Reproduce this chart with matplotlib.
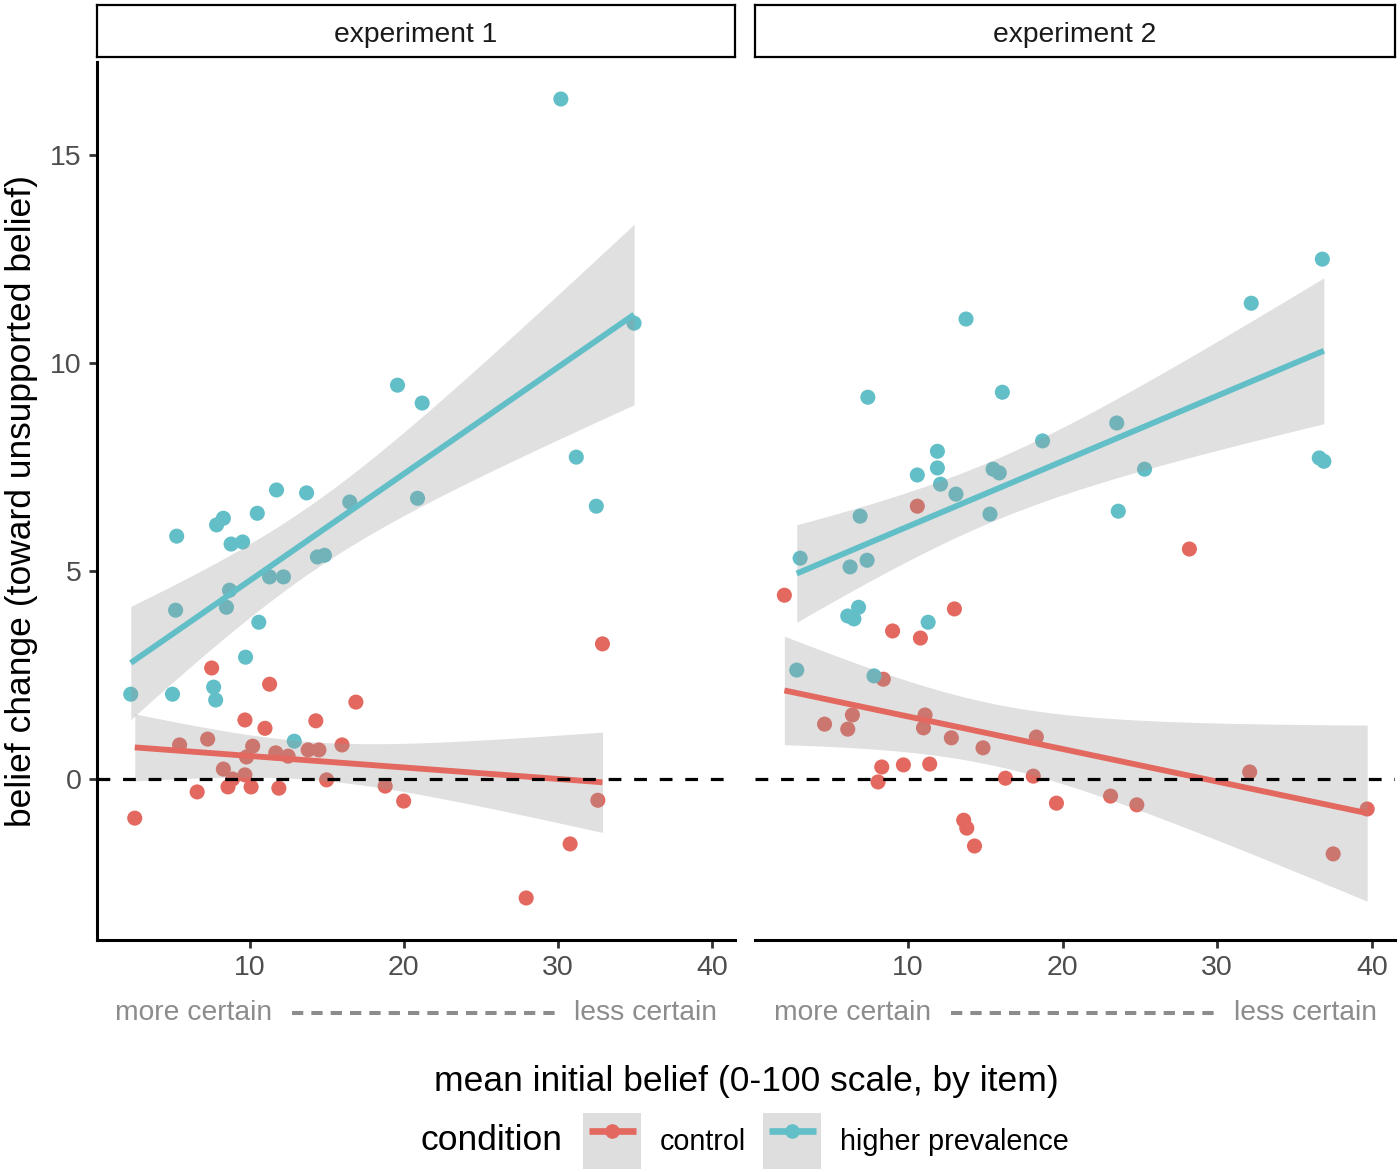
import numpy as np
import matplotlib
matplotlib.use('Agg')
import matplotlib.pyplot as plt
import matplotlib.transforms as mtransforms
from matplotlib.lines import Line2D
from matplotlib.patches import Patch, Rectangle
from matplotlib.legend_handler import HandlerTuple, HandlerPatch

plt.rcParams['font.family'] = ['Liberation Sans', 'DejaVu Sans']

# ---- data (mean initial belief, belief change) ----
e1_ctrl_x = [2.55, 5.46, 6.6, 7.28, 7.54, 8.3, 8.6, 8.9, 9.7, 9.7, 9.8, 10.2, 10.1, 11.0, 11.3,
             11.7, 11.9, 12.5, 13.8, 14.3, 14.5, 15.0, 16.0, 16.9, 18.8, 20.0, 27.95, 30.8, 32.6, 32.9]
e1_ctrl_y = [-0.94, 0.82, -0.31, 0.96, 2.67, 0.24, -0.19, 0.0, 1.42, 0.10, 0.53, 0.79, -0.19, 1.22, 2.28,
             0.63, -0.22, 0.55, 0.70, 1.40, 0.70, -0.02, 0.82, 1.85, -0.17, -0.53, -2.86, -1.56, -0.51, 3.25]

e1_high_x = [2.29, 5.27, 5.2, 5.0, 7.86, 8.3, 8.8, 9.55, 8.7, 8.5, 7.67, 7.8, 9.74, 10.5, 10.6,
             11.3, 12.2, 11.75, 13.7, 14.4, 14.86, 12.9, 16.5, 19.6, 21.2, 20.9, 30.2, 31.2, 32.5, 34.95]
e1_high_y = [2.04, 5.84, 4.06, 2.04, 6.11, 6.27, 5.65, 5.7, 4.54, 4.13, 2.21, 1.9, 2.93, 6.39, 3.77,
             4.86, 4.86, 6.95, 6.88, 5.34, 5.38, 0.91, 6.66, 9.47, 9.04, 6.75, 16.35, 7.74, 6.56, 10.96]

e2_ctrl_x = [2.0, 4.6, 6.1, 6.4, 8.06, 8.3, 8.4, 9.0, 9.7, 10.6, 10.8, 11.0, 11.1, 11.4, 12.8,
             13.0, 13.6, 13.8, 14.3, 14.85, 16.3, 18.1, 18.3, 19.6, 23.1, 24.8, 28.2, 32.1, 37.5, 39.7]
e2_ctrl_y = [4.42, 1.32, 1.20, 1.54, -0.07, 0.29, 2.40, 3.56, 0.34, 6.56, 3.39, 1.23, 1.54, 0.36, 0.99,
             4.09, -0.99, -1.18, -1.61, 0.75, 0.02, 0.07, 1.01, -0.58, -0.41, -0.62, 5.53, 0.17, -1.80, -0.72]

e2_high_x = [2.8, 3.02, 6.1, 6.25, 6.5, 6.8, 6.9, 7.35, 7.4, 7.8, 10.6, 11.3, 11.9, 11.9, 12.1,
             13.1, 13.75, 15.3, 15.5, 15.9, 16.1, 18.7, 23.5, 23.6, 25.3, 32.2, 36.6, 36.8, 36.9]
e2_high_y = [2.62, 5.31, 3.92, 5.10, 3.85, 4.13, 6.32, 5.26, 9.18, 2.48, 7.31, 3.77, 7.88, 7.48, 7.09,
             6.85, 11.06, 6.37, 7.45, 7.36, 9.3, 8.13, 8.56, 6.44, 7.45, 11.44, 7.72, 12.5, 7.64]

panels = ['experiment 1', 'experiment 2']
conditions = ['control', 'higher prevalence']
cond_colors = ['#E3685F', '#62BFC7']
x_ticks = [10, 20, 30, 40]
y_ticks = [0, 5, 10, 15]

W, H = 1400, 1172
def box(l, t, r, b):
    return [l / W, 1 - b / H, (r - l) / W, (b - t) / H]

def lm_band(x, y):
    # straight line fit with 95% band, like geom_smooth(method = "lm")
    x = np.asarray(x); y = np.asarray(y)
    n = len(x)
    b, a = np.polyfit(x, y, 1)
    res = y - (a + b * x)
    s = np.sqrt(np.sum(res ** 2) / (n - 2))
    sxx = np.sum((x - x.mean()) ** 2)
    t = 1.96 + 2.4 / (n - 2)
    xs = np.linspace(x.min(), x.max(), 100)
    fit = a + b * xs
    se = s * np.sqrt(1.0 / n + (xs - x.mean()) ** 2 / sxx)
    return xs, fit, fit - t * se, fit + t * se

def key_box(legend, orig_handle, xdescent, ydescent, width, height, fontsize):
    # grey key background a bit wider than the key line
    return Rectangle((-xdescent - 4, -ydescent), width + 8, height)

fig = plt.figure(figsize=(W / 100, H / 100), dpi=100)
ax1 = fig.add_axes(box(97, 62, 735, 940))
ax2 = fig.add_axes(box(755, 62, 1395, 940))
strip1 = fig.add_axes(box(97, 5, 735, 57))
strip2 = fig.add_axes(box(755, 5, 1395, 57))

data = [[(e1_ctrl_x, e1_ctrl_y), (e1_high_x, e1_high_y)],
        [(e2_ctrl_x, e2_ctrl_y), (e2_high_x, e2_high_y)]]

for ax, st, title, groups in zip([ax1, ax2], [strip1, strip2], panels, data):
    for (gx, gy), col in zip(groups, cond_colors):
        ax.scatter(gx, gy, s=118, color=col, edgecolors='none', zorder=2)
    for (gx, gy), col in zip(groups, cond_colors):
        xs, fit, lo, hi = lm_band(gx, gy)
        ax.fill_between(xs, lo, hi, color='#999999', alpha=0.3, lw=0, zorder=3)
        ax.plot(xs, fit, color=col, lw=4.2, solid_capstyle='butt', zorder=4)
    ax.axhline(0, color='black', lw=2.3, dashes=(4, 4), zorder=5)

    ax.set_xlim(0.1, 41.5)
    ax.set_ylim(-3.87, 17.24)
    ax.set_xticks(x_ticks)
    ax.set_yticks(y_ticks)
    for side in ['top', 'right', 'left']:
        ax.spines[side].set_visible(False)
    ax.spines['bottom'].set_linewidth(2.2)
    ax.tick_params(axis='both', length=6, width=2, color='#333333', labelcolor='#4D4D4D',
                   labelsize=20.5, pad=5)

    # certainty hint under the x axis
    trans = mtransforms.blended_transform_factory(ax.transData, ax.transAxes)
    yh = -(1013 - 940) / 878
    ax.text(1.3, yh, 'more certain', transform=trans, ha='left', va='center',
            color='#8C8C8C', fontsize=20.3)
    ax.text(40.35, yh, 'less certain', transform=trans, ha='right', va='center',
            color='#8C8C8C', fontsize=20.3)
    ax.plot([12.75, 29.95], [yh, yh], transform=trans, clip_on=False, color='#8C8C8C',
            lw=2.9, dashes=(2.8, 2.0))

    st.set_xticks([]); st.set_yticks([])
    st.set_facecolor('white')
    for sp in st.spines.values():
        sp.set_linewidth(1.6); sp.set_color('black')
    st.text(0.5, 0.43, title, ha='center', va='center', fontsize=20.3, color='#1A1A1A',
            transform=st.transAxes)

ax1.spines['left'].set_visible(True)
ax1.spines['left'].set_linewidth(2.2)
ax2.tick_params(axis='y', left=False, labelleft=False)

fig.text(22 / W, 1 - 501 / H, 'belief change (toward unsupported belief)', rotation=90,
         ha='center', va='center', fontsize=25.5)
fig.text(746 / W, 1 - 1081 / H, 'mean initial belief (0-100 scale, by item)',
         ha='center', va='center', fontsize=25.5)

fig.text(421 / W, 1 - 1141 / H, 'condition', ha='left', va='center', fontsize=25.5)
handles = []
for col in cond_colors:
    handles.append((Patch(facecolor='#DEDEDE', edgecolor='none'),
                    Line2D([], [], color=col, lw=4.8, marker='o', ms=9.5,
                           solid_capstyle='butt')))
fig.legend(handles=handles, labels=conditions, loc='center left',
           bbox_to_anchor=(589 / W, 1 - 1141 / H), frameon=False, fontsize=20.7,
           ncol=2, handlelength=1.63, handleheight=2.6, handletextpad=0.83,
           columnspacing=0.8, borderpad=0, borderaxespad=0,
           handler_map={tuple: HandlerTuple(ndivide=1, pad=0),
                        Patch: HandlerPatch(patch_func=key_box)})

fig.savefig('out.png', dpi=100)
